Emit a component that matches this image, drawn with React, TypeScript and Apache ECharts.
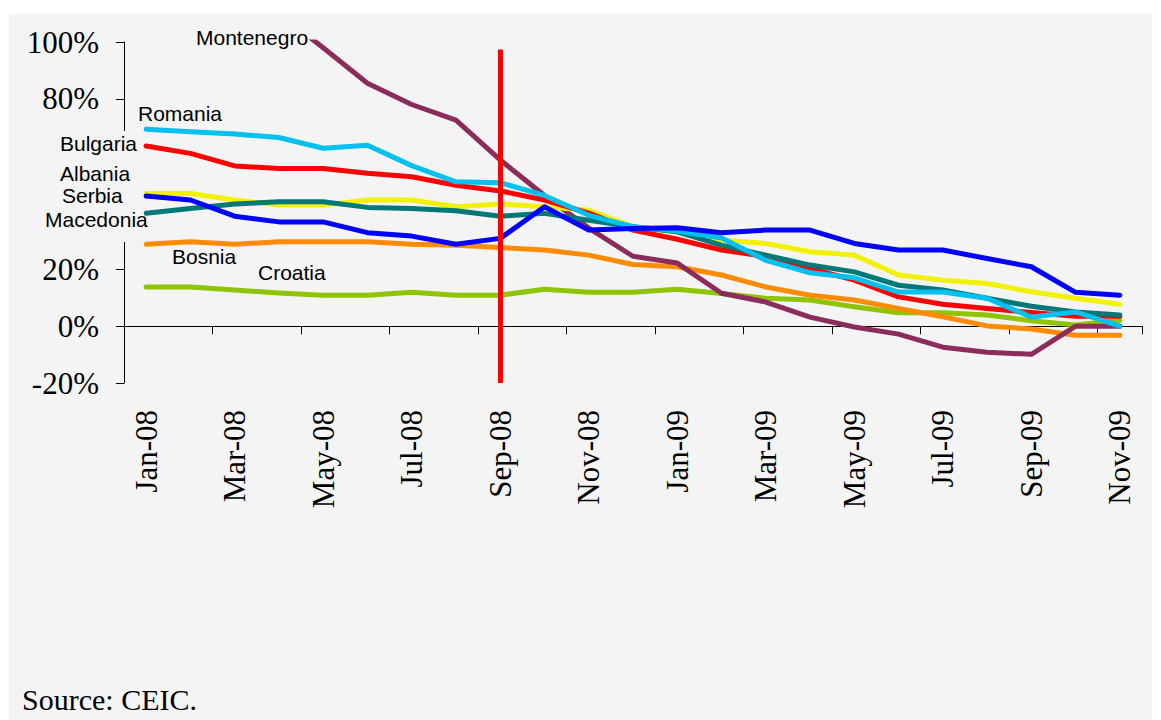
import React, { useEffect, useRef } from "react";
import * as echarts from "echarts";

const months = [
  "Jan-08", "Feb-08", "Mar-08", "Apr-08", "May-08", "Jun-08", "Jul-08", "Aug-08", "Sep-08", "Oct-08", "Nov-08", "Dec-08",
  "Jan-09", "Feb-09", "Mar-09", "Apr-09", "May-09", "Jun-09", "Jul-09", "Aug-09", "Sep-09", "Oct-09", "Nov-09",
];

const croatia = [13.8, 13.8, 12.7, 11.7, 10.9, 10.9, 11.9, 10.9, 10.9, 13, 11.9, 11.9, 13, 11.5, 9.8, 9.2, 6.8, 4.7, 4.7, 3.9, 1.9, 0.4, 2.1];
const bosnia = [28.8, 29.7, 28.8, 29.7, 29.7, 29.7, 28.8, 28.5, 27.7, 26.8, 25, 21.7, 20.9, 18, 13.8, 10.9, 9.2, 6.2, 3.3, 0.1, -1, -3.2, -3.2];
const montenegro = [null, null, null, 110, 98, 85.5, 78, 72.5, 58.5, 46, 34.5, 24.6, 22.2, 11.6, 8.5, 3.2, -0.3, -2.8, -7.4, -9.2, -9.9, 0, 0];
const albania = [46.7, 46.7, 44.4, 42.6, 42.6, 44.4, 44.4, 42, 43, 42, 40.8, 35, 33, 30.3, 29.1, 26.2, 25, 18, 16.2, 15, 12.1, 9.8, 7.7];
const bulgaria = [63.4, 60.8, 56.4, 55.5, 55.5, 53.8, 52.6, 49.6, 47.6, 44.4, 39.8, 33.8, 30.6, 26.8, 24.5, 20.3, 16.2, 10.3, 7.7, 6.2, 4.8, 3.5, 3.5];
const macedonia = [39.7, 41.4, 43, 43.8, 43.8, 41.8, 41.4, 40.6, 38.7, 39.7, 37.3, 35, 33.2, 28.5, 25, 21.5, 19.1, 14.4, 12.7, 9.8, 7, 5, 3.9];
const romania = [69.3, 68.4, 67.6, 66.4, 62.6, 63.7, 56.5, 50.8, 50.5, 46, 39, 35, 33.5, 31, 23.2, 18.8, 17, 12, 12, 9.8, 3.2, 5, 0];
const serbia = [45.8, 44.4, 38.7, 36.7, 36.7, 32.9, 31.7, 28.8, 30.9, 42, 33.8, 34.4, 34.6, 32.9, 33.8, 33.8, 29.1, 26.8, 26.8, 23.8, 20.9, 11.9, 10.9];

const hiddenTicks = [40, 60];

const markerMonth = "Sep-08";
const markerTop = 97.4;
const markerBottom = -20;

const seriesDefs = [
  { name: "Croatia", data: croatia, color: "#8FC400" },
  { name: "Bosnia", data: bosnia, color: "#FF8C00" },
  { name: "Montenegro", data: montenegro, color: "#8B2C5C" },
  { name: "Albania", data: albania, color: "#F2F200" },
  { name: "Bulgaria", data: bulgaria, color: "#FF0000" },
  { name: "Macedonia", data: macedonia, color: "#007878" },
  { name: "Romania", data: romania, color: "#00C0F0" },
  { name: "Serbia", data: serbia, color: "#0000FF" },
];

const labels = [
  { text: "Montenegro", x: 196, y: 37 },
  { text: "Romania", x: 138, y: 113 },
  { text: "Bulgaria", x: 60, y: 143 },
  { text: "Albania", x: 60, y: 173 },
  { text: "Serbia", x: 62, y: 195 },
  { text: "Macedonia", x: 45, y: 219 },
  { text: "Bosnia", x: 172, y: 256 },
  { text: "Croatia", x: 258, y: 272 },
];

export default function App() {
  const ref = useRef<HTMLDivElement>(null);
  useEffect(() => {
    if (!ref.current) return;
    const chart = echarts.init(ref.current, undefined, { renderer: "svg" });
    const serif = "'Liberation Serif', 'Times New Roman', serif";
    const sans = "'Liberation Sans', Arial, sans-serif";
    const series: any[] = seriesDefs.map((s) => ({
      name: s.name,
      type: "line",
      data: s.data,
      xAxisIndex: 0,
      yAxisIndex: 0,
      symbol: "none",
      showSymbol: false,
      connectNulls: false,
      clip: true,
      lineStyle: { color: s.color, width: 5, cap: "round", join: "round" },
      itemStyle: { color: s.color },
      z: 2,
    }));
    series.push({
      name: "marker",
      type: "line",
      data: months.map(() => null),
      symbol: "none",
      silent: true,
      z: 5,
      markLine: {
        silent: true,
        symbol: ["none", "none"],
        label: { show: false },
        lineStyle: { color: "#FF0000", width: 5, type: "solid" },
        data: [[{ coord: [markerMonth, markerTop] }, { coord: [markerMonth, markerBottom] }]],
      },
    });
    chart.setOption({
      animation: false,
      backgroundColor: "#ffffff",
      grid: { left: 124, top: 42, width: 1018, height: 341, containLabel: false },
      xAxis: [
        {
          type: "category",
          data: months,
          boundaryGap: true,
          axisLine: { show: true, onZero: true, lineStyle: { color: "#000", width: 1 } },
          axisTick: { show: true, interval: 1, length: 8, inside: false, lineStyle: { color: "#000" } },
          axisLabel: { show: false },
          splitLine: { show: false },
        },
        {
          type: "category",
          data: months,
          position: "bottom",
          boundaryGap: true,
          axisLine: { show: false, onZero: false },
          axisTick: { show: false },
          axisLabel: {
            show: true,
            interval: 1,
            rotate: 90,
            margin: 27,
            color: "#000",
            fontFamily: serif,
            fontSize: 31,
          },
          splitLine: { show: false },
        },
      ],
      yAxis: {
        type: "value",
        min: -20,
        max: 100,
        interval: 20,
        axisLine: { show: true, lineStyle: { color: "#000", width: 1 } },
        axisTick: { show: true, length: 8, lineStyle: { color: "#000" } },
        axisLabel: {
          color: "#000",
          fontFamily: serif,
          fontSize: 31,
          margin: 25,
          formatter: (v: number) => (hiddenTicks.indexOf(v) >= 0 ? "" : v + "%"),
        },
        splitLine: { show: false },
      },
      graphic: [
        {
          type: "rect",
          z: -10,
          silent: true,
          shape: { x: 9, y: 14, width: 1143, height: 706 },
          style: { fill: "#F4F4F4" },
        },
        {
          type: "rect",
          z: 100,
          silent: true,
          shape: { x: 15, y: 131, width: 127, height: 111 },
          style: { fill: "#F4F4F4" },
        },
        ...labels.map((l) => ({
          type: "text",
          z: 101,
          silent: true,
          x: l.x,
          y: l.y,
          style: {
            text: l.text,
            fill: "#000",
            font: `21px ${sans}`,
            textAlign: "left",
            textVerticalAlign: "middle",
          },
        })),
        {
          type: "text",
          z: 101,
          silent: true,
          x: 22,
          y: 699,
          style: {
            text: "Source: CEIC.",
            fill: "#000",
            font: `30px ${serif}`,
            textAlign: "left",
            textVerticalAlign: "middle",
          },
        },
      ],
      series,
    });
    return () => chart.dispose();
  }, []);
  return (
    <div
      ref={ref}
      style={{ position: "absolute", left: 0, top: 0, width: 1161, height: 720 }}
    />
  );
}
